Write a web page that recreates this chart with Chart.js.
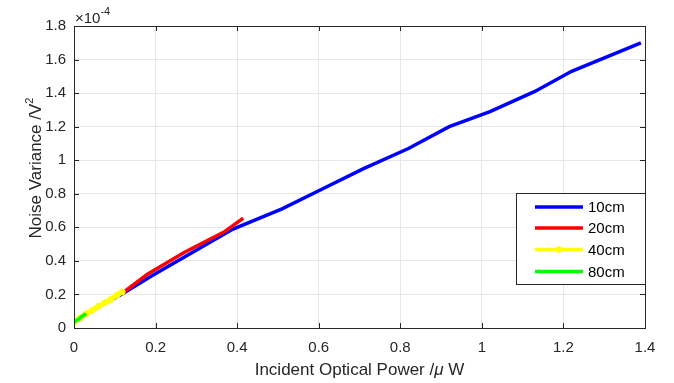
<!DOCTYPE html>
<html>
<head>
<meta charset="utf-8">
<script src="https://cdn.jsdelivr.net/npm/chart.js@4"></script>
<style>
  html, body { margin: 0; padding: 0; background: #fff; }
  #wrap { width: 674px; height: 383px; }
</style>
</head>
<body>
<div id="wrap"><canvas id="myChart" width="674" height="383"></canvas></div>
<script>
// incident optical power (uW) and noise variance (x 1e-4 V^2)
var seriesNames = ['10cm', '20cm', '40cm', '80cm'];

var x10 = [0, 0.03, 0.07, 0.12, 0.19, 0.29, 0.39, 0.51, 0.61, 0.71, 0.82, 0.92, 1.02, 1.13, 1.22, 1.39];
var y10 = [0.035, 0.083, 0.14, 0.205, 0.31, 0.45, 0.59, 0.71, 0.83, 0.95, 1.07, 1.20, 1.29, 1.41, 1.53, 1.70];

var x20 = [0.12, 0.18, 0.27, 0.37, 0.415];
var y20 = [0.21, 0.32, 0.45, 0.575, 0.655];

var x40 = [0, 0.015, 0.03, 0.045, 0.06, 0.075, 0.09, 0.105, 0.118];
var y40 = [0.035, 0.06, 0.085, 0.105, 0.13, 0.15, 0.17, 0.195, 0.215];

var x80 = [0, 0.01, 0.02, 0.03];
var y80 = [0.035, 0.05, 0.07, 0.085];

var xTicks = [0, 0.2, 0.4, 0.6, 0.8, 1, 1.2, 1.4];
var yTicks = [0, 0.2, 0.4, 0.6, 0.8, 1, 1.2, 1.4, 1.6, 1.8];

function pts(xs, ys) {
    var out = [];
    for (var i = 0; i < xs.length; i++) out.push({x: xs[i], y: ys[i]});
    return out;
}

var FONT = "'Liberation Sans', Arial, Helvetica, sans-serif";
var INK = '#262626';

// matlab style box, inward ticks, axis titles, exponent and legend
var matlabBox = {
    id: 'matlabBox',
    afterDraw: function(chart) {
        var c = chart.ctx, a = chart.chartArea;
        var xs = chart.scales.x, ys = chart.scales.y;
        c.save();
        c.strokeStyle = INK;
        c.lineWidth = 1;
        c.beginPath();
        xTicks.forEach(function(t) {
            var px = Math.round(xs.getPixelForValue(t)) + 0.5;
            c.moveTo(px, a.bottom); c.lineTo(px, a.bottom - 5);
            c.moveTo(px, a.top); c.lineTo(px, a.top + 5);
        });
        yTicks.forEach(function(t) {
            var py = Math.round(ys.getPixelForValue(t)) + 0.5;
            c.moveTo(a.left, py); c.lineTo(a.left + 5, py);
            c.moveTo(a.right, py); c.lineTo(a.right - 5, py);
        });
        c.stroke();
        c.strokeRect(Math.round(a.left) + 0.5, Math.round(a.top) + 0.5,
            Math.round(a.right - a.left), Math.round(a.bottom - a.top));

        c.fillStyle = INK;
        c.textBaseline = 'alphabetic';
        c.textAlign = 'left';

        // exponent label
        c.font = '15px ' + FONT;
        c.fillText('\u00d710', a.left + 1, 23);
        var w = c.measureText('\u00d710').width;
        c.font = '11px ' + FONT;
        c.fillText('-4', a.left + 1 + w, 15);

        // x title with italic mu
        var p1 = 'Incident Optical Power /', p2 = '\u03bc', p3 = ' W';
        c.font = '17px ' + FONT;
        var w1 = c.measureText(p1).width, w3 = c.measureText(p3).width;
        c.font = 'italic 17px ' + FONT;
        var w2 = c.measureText(p2).width;
        var tx = (a.left + a.right) / 2 - (w1 + w2 + w3) / 2;
        c.font = '17px ' + FONT;
        c.fillText(p1, tx, 375);
        c.font = 'italic 17px ' + FONT;
        c.fillText(p2, tx + w1, 375);
        c.font = '17px ' + FONT;
        c.fillText(p3, tx + w1 + w2, 375);

        // y title, rotated, with superscript
        c.save();
        c.translate(41, 168);
        c.rotate(-Math.PI / 2);
        var t1 = 'Noise Variance /V';
        c.font = '17px ' + FONT;
        var wt = c.measureText(t1).width;
        c.font = '11px ' + FONT;
        var ws = c.measureText('2').width;
        c.font = '17px ' + FONT;
        c.fillText(t1, -(wt + ws) / 2, 0);
        c.font = '11px ' + FONT;
        c.fillText('2', -(wt + ws) / 2 + wt, -8);
        c.restore();

        // legend box
        var bx = 516, by = 193, bw = 129, bh = 91;
        c.fillStyle = '#fff';
        c.fillRect(bx, by, bw, bh);
        c.strokeRect(bx + 0.5, by + 0.5, bw, bh);
        var rows = [207, 228, 249.5, 271.5];
        chart.data.datasets.forEach(function(ds, i) {
            var yy = rows[i];
            c.strokeStyle = ds.borderColor;
            c.lineWidth = 3.5;
            c.beginPath();
            c.moveTo(535, yy); c.lineTo(583, yy);
            c.stroke();
            if (ds.pointRadius > 0) {
                c.fillStyle = ds.borderColor;
                c.beginPath();
                c.arc(559, yy, 3.2, 0, Math.PI * 2);
                c.fill();
            }
            c.fillStyle = '#000';
            c.font = '15px ' + FONT;
            c.textBaseline = 'middle';
            c.fillText(ds.label, 588, yy + 1);
        });
        c.restore();
    }
};

var ctx = document.getElementById('myChart').getContext('2d');
var myChart = new Chart(ctx, {
    type: 'line',
    data: {
        datasets: [
            {
                label: seriesNames[0],
                data: pts(x10, y10),
                borderColor: '#0000ff',
                backgroundColor: '#0000ff',
                borderWidth: 3.5,
                pointRadius: 0,
                order: 3
            },
            {
                label: seriesNames[1],
                data: pts(x20, y20),
                borderColor: '#ff0000',
                backgroundColor: '#ff0000',
                borderWidth: 3.5,
                pointRadius: 0,
                order: 2
            },
            {
                label: seriesNames[2],
                data: pts(x40, y40),
                borderColor: '#ffff00',
                backgroundColor: '#ffff00',
                borderWidth: 5,
                pointRadius: 3,
                pointBorderWidth: 1,
                pointBorderColor: '#ffff00',
                order: 1
            },
            {
                label: seriesNames[3],
                data: pts(x80, y80),
                borderColor: '#00ff00',
                backgroundColor: '#00ff00',
                borderWidth: 3.5,
                pointRadius: 0,
                order: 0
            }
        ]
    },
    options: {
        responsive: false,
        animation: false,
        layout: { padding: { top: 26, right: 29, left: 0, bottom: 0 } },
        plugins: {
            legend: { display: false },
            tooltip: { enabled: false }
        },
        scales: {
            x: {
                type: 'linear',
                min: 0,
                max: 1.4,
                afterBuildTicks: function(s) { s.ticks = xTicks.map(function(v) { return {value: v}; }); },
                afterFit: function(s) { s.height = 55; },
                grid: { color: '#e6e6e6', drawTicks: false },
                border: { color: INK },
                ticks: {
                    color: INK,
                    padding: 11,
                    font: { family: FONT, size: 15 },
                    maxRotation: 0,
                    callback: function(v) { return String(v); }
                }
            },
            y: {
                type: 'linear',
                min: 0,
                max: 1.8,
                afterBuildTicks: function(s) { s.ticks = yTicks.map(function(v) { return {value: v}; }); },
                afterFit: function(s) { s.width = 74; },
                grid: { color: '#e6e6e6', drawTicks: false },
                border: { color: INK },
                ticks: {
                    color: INK,
                    padding: 8,
                    font: { family: FONT, size: 15 },
                    callback: function(v) { return String(v); }
                }
            }
        }
    },
    plugins: [matlabBox]
});
</script>
</body>
</html>
